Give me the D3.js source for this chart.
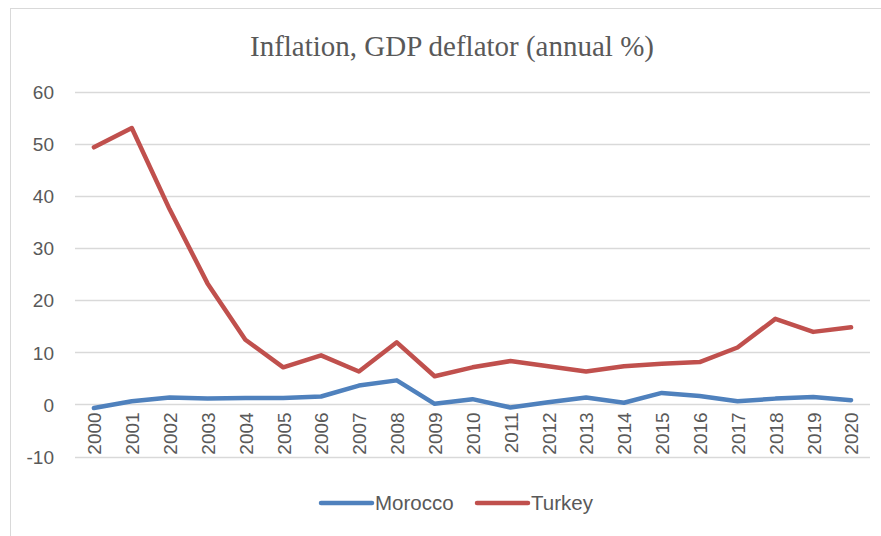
<!DOCTYPE html>
<html>
<head>
<meta charset="utf-8">
<script src="https://cdn.jsdelivr.net/npm/d3@7"></script>
<style>
  html, body { margin: 0; padding: 0; background: #fff; }
  svg { display: block; }
</style>
</head>
<body>
<svg id="chart" width="881" height="536"></svg>
<script>
// Inflation, GDP deflator (annual %), 2000–2020
const years = ["2000","2001","2002","2003","2004","2005","2006","2007","2008","2009","2010",
               "2011","2012","2013","2014","2015","2016","2017","2018","2019","2020"];
const morocco = [-0.7, 0.6, 1.3, 1.1, 1.2, 1.2, 1.5, 3.6, 4.6, 0.1, 1.0,
                 -0.6, 0.4, 1.3, 0.3, 2.2, 1.6, 0.6, 1.1, 1.4, 0.8];
const turkey  = [49.3, 53.0, 37.4, 23.2, 12.4, 7.1, 9.4, 6.3, 11.9, 5.4, 7.1,
                 8.3, 7.3, 6.3, 7.3, 7.8, 8.1, 10.9, 16.4, 13.9, 14.8];
const yTicks = [-10, 0, 10, 20, 30, 40, 50, 60];
const seriesNames = ["Morocco", "Turkey"];
const seriesColors = ["#4f81bd", "#c0504d"];

const svg = d3.select("#chart");
const textColor = "#595959";
const sans = "'Liberation Sans', Arial, sans-serif";

// outer frame
svg.append("rect")
  .attr("x", 10.5).attr("y", 8.5)
  .attr("width", 900).attr("height", 600)
  .attr("fill", "none").attr("stroke", "#d9d9d9").attr("stroke-width", 1);

// title
svg.append("text")
  .attr("x", 452).attr("y", 56)
  .attr("text-anchor", "middle")
  .attr("font-family", "'Liberation Serif', 'Times New Roman', serif")
  .attr("font-size", 29)
  .attr("fill", textColor)
  .text("Inflation, GDP deflator (annual %)");

const plot = { left: 75, right: 870, top: 91.5, bottom: 456.5 };

const x = d3.scalePoint().domain(years).range([plot.left, plot.right]).padding(0.5);
const y = d3.scaleLinear().domain([-10, 60]).range([plot.bottom, plot.top]);

// horizontal gridlines
svg.append("g")
  .selectAll("line")
  .data(yTicks)
  .join("line")
  .attr("x1", plot.left).attr("x2", plot.right)
  .attr("y1", d => Math.round(y(d)) + 0.5).attr("y2", d => Math.round(y(d)) + 0.5)
  .attr("stroke", "#d9d9d9").attr("stroke-width", 1.3);

// y axis labels (plain hyphen for negatives)
const yAxis = d3.axisLeft(y).tickValues(yTicks).tickFormat(d => String(d))
  .tickSize(0).tickPadding(0);
const gy = svg.append("g").attr("transform", `translate(54,0)`).call(yAxis);
gy.select(".domain").remove();
gy.selectAll("text")
  .attr("font-family", sans).attr("font-size", 19)
  .attr("fill", textColor).attr("dy", "0.36em");

// x axis labels, rotated, hung below the zero line
const xAxis = d3.axisBottom(x).tickSize(0).tickPadding(0);
const gx = svg.append("g").attr("transform", `translate(0,${y(0)})`).call(xAxis);
gx.select(".domain").remove();
gx.selectAll("text")
  .attr("font-family", sans).attr("font-size", 19)
  .attr("fill", textColor)
  .attr("text-anchor", "end")
  .attr("transform", "translate(0,8) rotate(-90)")
  .attr("x", 0).attr("y", 0).attr("dy", "0.36em");

// series lines
const line = d3.line()
  .x((d, i) => x(years[i]))
  .y(d => y(d));

[morocco, turkey].forEach((vals, k) => {
  svg.append("path")
    .datum(vals)
    .attr("d", line)
    .attr("fill", "none")
    .attr("stroke", seriesColors[k])
    .attr("stroke-width", 4.5)
    .attr("stroke-linejoin", "round")
    .attr("stroke-linecap", "round");
});

// legend
const legendItems = [
  { name: seriesNames[0], color: seriesColors[0], x: 321 },
  { name: seriesNames[1], color: seriesColors[1], x: 477 }
];
const lg = svg.append("g");
legendItems.forEach(it => {
  lg.append("line")
    .attr("x1", it.x).attr("x2", it.x + 51)
    .attr("y1", 503).attr("y2", 503)
    .attr("stroke", it.color).attr("stroke-width", 4.5)
    .attr("stroke-linecap", "round");
  lg.append("text")
    .attr("x", it.x + 54).attr("y", 503)
    .attr("dy", "0.36em")
    .attr("font-family", sans).attr("font-size", 20.5)
    .attr("fill", textColor)
    .text(it.name);
});
</script>
</body>
</html>
